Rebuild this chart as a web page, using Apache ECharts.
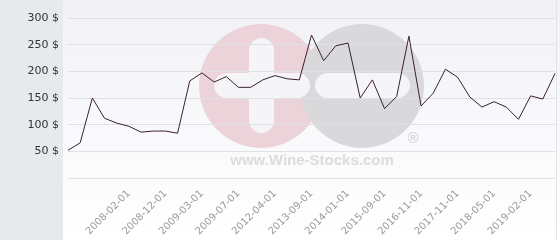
<!DOCTYPE html>
<html><head><meta charset="utf-8">
<script src="https://cdn.jsdelivr.net/npm/echarts@6/dist/echarts.min.js"></script>
<style>html,body{margin:0;padding:0;background:#fff}#c{width:560px;height:240px}</style>
</head><body><div id="c"></div>
<script>
const dates = [
  '2006-11-01','2007-03-01','2007-06-01','2007-09-01','2007-11-01',
  '2008-02-01','2008-05-01','2008-09-01','2008-12-01','2009-01-01',
  '2009-02-01','2009-03-01','2009-04-01','2009-05-01','2009-07-01',
  '2010-06-01','2011-05-01','2012-04-01','2012-09-01','2013-03-01',
  '2013-09-01','2013-11-01','2013-12-01','2014-01-01','2014-06-01',
  '2015-01-01','2015-09-01','2016-02-01','2016-06-01','2016-11-01',
  '2017-03-01','2017-07-01','2017-11-01','2018-01-01','2018-03-01',
  '2018-05-01','2018-08-01','2018-11-01','2019-02-01','2019-06-01',
  '2019-10-01'
];
const prices = [
  52, 66, 150, 112, 103,
  97, 86, 88, 88, 84,
  182, 197, 180, 190, 170,
  170, 184, 192, 186, 184,
  268, 220, 248, 253, 150,
  184, 130, 153, 266, 135,
  159, 204, 189, 152, 133,
  143, 133, 110, 154, 148,
  196
];
const yMin = 0, yMax = 300, yStep = 50;
const currency = ' $';
const firstLabel = 5, labelEvery = 3;

const chart = echarts.init(document.getElementById('c'), null, {renderer: 'canvas'});
chart.setOption({
  animation: false,
  backgroundColor: '#ffffff',
  graphic: [
    {type: 'rect', z: -100, silent: true, shape: {x: 63, y: 0, width: 497, height: 240},
      style: {fill: {type: 'linear', x: 0, y: 0, x2: 0, y2: 1,
        colorStops: [{offset: 0, color: '#f1f2f6'}, {offset: 1, color: '#ffffff'}]}}},
    {type: 'rect', z: -100, silent: true, shape: {x: 0, y: 0, width: 63, height: 240},
      style: {fill: '#e6eaed'}},
    {type: 'line', z: -90, silent: true, shape: {x1: 556.5, y1: 0, x2: 556.5, y2: 240},
      style: {stroke: '#e2e3e7', lineWidth: 1}},
    {type: 'circle', z: -50, silent: true, shape: {cx: 261, cy: 86, r: 62},
      style: {fill: '#ecd3d9'}},
    {type: 'circle', z: -49, silent: true, shape: {cx: 362, cy: 86, r: 62},
      style: {fill: '#d9d9dc'}},
    {type: 'rect', z: -40, silent: true, shape: {x: 214, y: 73, width: 96, height: 25, r: 12.5},
      style: {fill: '#f5f5f8'}},
    {type: 'rect', z: -40, silent: true, shape: {x: 249, y: 38, width: 25, height: 95, r: 12.5},
      style: {fill: '#f5f5f8'}},
    {type: 'rect', z: -40, silent: true, shape: {x: 315, y: 73, width: 95, height: 25, r: 12.5},
      style: {fill: '#f5f5f8'}},
    {type: 'text', z: -40, silent: true, x: 312, y: 161,
      style: {text: 'www.Wine-Stocks.com', fill: '#dcdcdf', font: 'bold 15px "Liberation Sans", Arial, sans-serif',
        align: 'center', verticalAlign: 'middle'}},
    {type: 'text', z: -40, silent: true, x: 413, y: 139,
      style: {text: '®', fill: '#d6d6d9', font: 'bold 15px "Liberation Sans", Arial, sans-serif',
        align: 'center', verticalAlign: 'middle'}}
  ],
  grid: {left: 68, right: 5, top: 18, bottom: 62, containLabel: false},
  xAxis: {
    type: 'category',
    data: dates,
    boundaryGap: false,
    axisLine: {show: false},
    axisTick: {show: false},
    splitLine: {show: false},
    axisLabel: {
      rotate: 45,
      margin: 14,
      color: '#999',
      fontSize: 10,
      fontFamily: 'DejaVu Sans',
      interval: (i) => i >= firstLabel && (i - firstLabel) % labelEvery === 0
    }
  },
  yAxis: {
    type: 'value',
    min: yMin, max: yMax, interval: yStep,
    axisLine: {show: false},
    axisTick: {show: false},
    splitLine: {show: true, lineStyle: {color: '#e0e1e5', width: 1}},
    axisLabel: {
      margin: 9,
      color: '#333',
      fontSize: 11,
      fontFamily: 'DejaVu Sans',
      formatter: (v) => v === 0 ? '' : v + currency
    }
  },
  series: [{
    type: 'line',
    data: prices,
    symbol: 'none',
    lineStyle: {color: '#3b2030', width: 1},
    z: 5
  }]
});
</script></body></html>
